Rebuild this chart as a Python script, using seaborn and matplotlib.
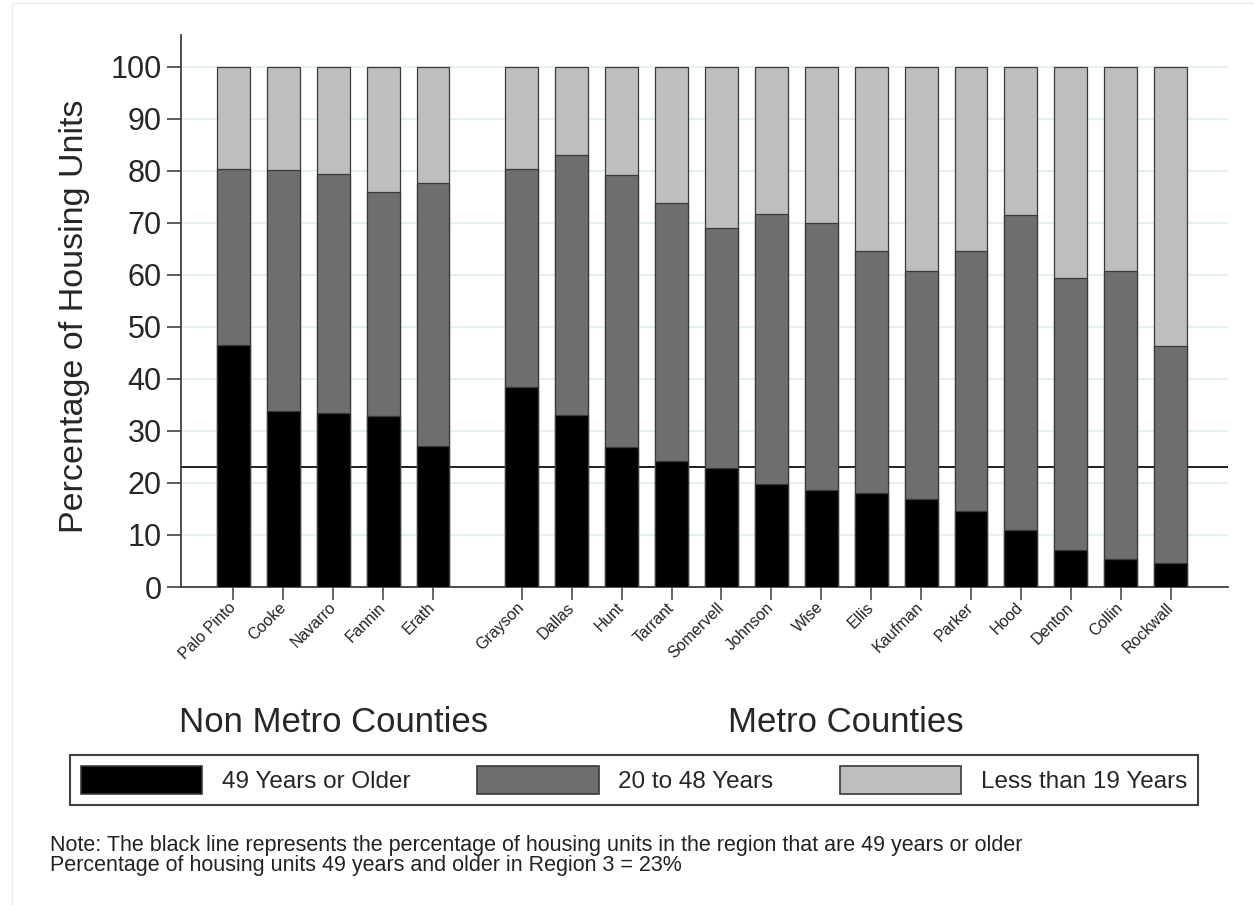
import numpy as np
import pandas as pd
import matplotlib.pyplot as plt
import seaborn as sns
from matplotlib.patches import Patch
from matplotlib.lines import Line2D
from matplotlib.transforms import blended_transform_factory

nonmetro_counties = ["Palo Pinto", "Cooke", "Navarro", "Fannin", "Erath"]
metro_counties = ["Grayson", "Dallas", "Hunt", "Tarrant", "Somervell", "Johnson", "Wise",
                  "Ellis", "Kaufman", "Parker", "Hood", "Denton", "Collin", "Rockwall"]
old_pct = [46.5, 33.8, 33.5, 32.8, 27.1,
           38.5, 33.1, 26.9, 24.2, 22.9, 19.9, 18.6, 18.1, 17.0, 14.7, 10.9, 7.1, 5.4, 4.7]
mid_pct = [33.8, 46.3, 46.0, 43.2, 50.5,
           41.8, 49.9, 52.3, 49.6, 46.2, 51.9, 51.4, 46.5, 43.8, 50.0, 60.6, 52.4, 55.4, 41.6]
new_pct = [19.7, 19.9, 20.5, 24.0, 22.4,
           19.7, 17.0, 20.8, 26.2, 30.9, 28.2, 30.0, 35.4, 39.2, 35.3, 28.5, 40.5, 39.2, 53.7]
region_old_pct = 23
series_labels = ["49 Years or Older", "20 to 48 Years", "Less than 19 Years"]
group_labels = ["Non Metro Counties", "Metro Counties"]
note_lines = ["Note: The black line represents the percentage of housing units in the region that are 49 years or older",
              "Percentage of housing units 49 years and older in Region 3 = 23%"]

C_OLD, C_MID, C_NEW = "#000000", "#6e6e6e", "#bebebe"
EDGE = "#3a3a3a"
GROUP_GAP = 0.78


def build_frame():
    n1 = len(nonmetro_counties)
    pos = list(range(n1)) + [n1 + GROUP_GAP + j for j in range(len(metro_counties))]
    df = pd.DataFrame({
        "county": nonmetro_counties + metro_counties,
        "pos": pos,
        "old": old_pct,
        "mid": mid_pct,
        "new": new_pct,
    })
    df["cum_mid"] = df["old"] + df["mid"]
    df["cum_all"] = df["cum_mid"] + df["new"]
    return df


def draw(df):
    sns.set_style("white")
    plt.rcParams["font.family"] = ["Liberation Sans", "DejaVu Sans"]

    fig = plt.figure(figsize=(12.54, 9.05), dpi=100)
    ax = fig.add_axes([181 / 1254, 1 - 587 / 905, 1047 / 1254, 552 / 905])

    bar_kw = dict(x="pos", native_scale=True, width=0.66, edgecolor=EDGE, linewidth=0.9,
                  errorbar=None, saturation=1, ax=ax, zorder=3)
    sns.barplot(data=df, y="cum_all", color=C_NEW, **bar_kw)
    sns.barplot(data=df, y="cum_mid", color=C_MID, **bar_kw)
    sns.barplot(data=df, y="old", color=C_OLD, **bar_kw)

    ax.axhline(region_old_pct, color="#202020", lw=1.4, zorder=2)

    ax.set_xlim(-1.05, 19.93)
    ax.set_ylim(0, 106.15)
    ax.set_yticks(np.arange(0, 101, 10))
    ax.yaxis.grid(True, color="#e6eff1", lw=1.5, zorder=0)
    ax.set_axisbelow(True)
    ax.set_xticks(df["pos"])
    ax.set_xticklabels(df["county"], rotation=45, ha="right", va="center",
                       rotation_mode="anchor", fontsize=11.5, color="#222222")
    ax.tick_params(axis="x", length=9, width=1.1, color="#404040", pad=4, bottom=True)
    ax.tick_params(axis="y", length=10, width=1.2, color="#404040", pad=4,
                   labelsize=22, left=True)
    ax.set_xlabel("")
    ax.set_ylabel("Percentage of Housing Units", fontsize=24.5)
    ax.yaxis.set_label_coords(-0.087, 0.49)

    for side in ["top", "right"]:
        ax.spines[side].set_visible(False)
    for side in ["left", "bottom"]:
        ax.spines[side].set_color("#404040")
        ax.spines[side].set_linewidth(1.3)

    # group titles under the tick labels
    trans = blended_transform_factory(ax.transData, fig.transFigure)
    n1 = len(nonmetro_counties)
    centers = [df["pos"][:n1].mean(), df["pos"][n1:].mean()]
    for cx, lab in zip(centers, group_labels):
        fig.text(cx, 1 - 722 / 905, lab, transform=trans, ha="center", va="center", fontsize=25)

    handles = [Patch(facecolor=c, edgecolor=EDGE, linewidth=1.2) for c in (C_OLD, C_MID, C_NEW)]
    leg = fig.legend(handles, series_labels, loc="upper left", ncol=3, mode="expand",
                     bbox_to_anchor=(70 / 1254, 1 - 811 / 905, 1128 / 1254, 56 / 905),
                     bbox_transform=fig.transFigure, fontsize=17.5, handlelength=5.0,
                     handleheight=1.4, handletextpad=0.8, borderpad=0.45, borderaxespad=0,
                     fancybox=False, framealpha=1)
    leg.get_frame().set_edgecolor("#404040")
    leg.get_frame().set_linewidth(1.5)

    fig.text(50 / 1254, 1 - 851 / 905, note_lines[0], fontsize=15.5, va="baseline", color="#222222")
    fig.text(50 / 1254, 1 - 871 / 905, note_lines[1], fontsize=15.5, va="baseline", color="#222222")

    # faint outer border of the graph region
    fig.add_artist(Line2D([12 / 1254, 12 / 1254], [0, 1 - 3 / 905], color="#ececec", lw=1,
                          transform=fig.transFigure))
    fig.add_artist(Line2D([12 / 1254, 1], [1 - 3 / 905, 1 - 3 / 905], color="#ececec", lw=1,
                          transform=fig.transFigure))

    fig.savefig("out.png", dpi=100)


if __name__ == "__main__":
    draw(build_frame())
